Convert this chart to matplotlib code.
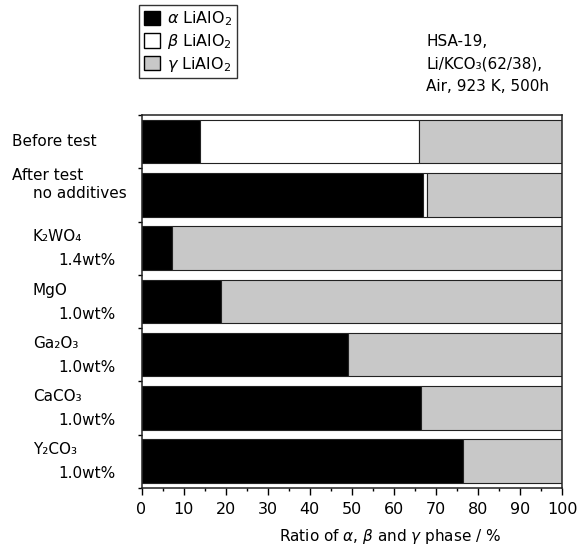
import numpy as np
import matplotlib.pyplot as plt
from matplotlib.patches import Patch
from matplotlib.transforms import blended_transform_factory

# phase ratios (%)
first_line = ["Before test", "After test", "K₂WO₄", "MgO", "Ga₂O₃", "CaCO₃", "Y₂CO₃"]
second_line = ["", "no additives", "1.4wt%", "1.0wt%", "1.0wt%", "1.0wt%", "1.0wt%"]
alpha = [14, 67, 7.3, 19, 49, 66.4, 76.5]
beta = [52, 1, 0, 0, 0, 0, 0]
gamma = [34, 32, 92.7, 81, 51, 33.6, 23.5]

plt.rcParams['font.family'] = ['DejaVu Sans']

fig = plt.figure(figsize=(5.8, 5.45), dpi=100)
ax = fig.add_axes([0.244, 0.105, 0.725, 0.684])

y = np.arange(len(alpha))
h = 0.82
alpha = np.array(alpha)
beta = np.array(beta)
gamma = np.array(gamma)
ax.barh(y, alpha, height=h, color='black', edgecolor='#222222', linewidth=0.8)
ax.barh(y, beta, left=alpha, height=h, color='white', edgecolor='#222222', linewidth=0.8)
ax.barh(y, gamma, left=alpha + beta, height=h, color='#c8c8c8', edgecolor='#222222', linewidth=0.8)

ax.set_xlim(0, 100)
ax.set_ylim(6.5, -0.5)
ax.set_xticks(np.arange(0, 101, 10))
ax.set_xticks(np.arange(5, 100, 10), minor=True)
ax.tick_params(axis='x', which='major', length=5, width=1, labelsize=11.5, pad=5)
ax.tick_params(axis='x', which='minor', length=2.5, width=1)
ax.set_yticks([])
ax.set_yticks(np.arange(-0.5, 7, 1), minor=True)
ax.tick_params(axis='y', which='minor', length=3, width=1)
ax.set_xlabel('Ratio of $\\alpha$, $\\beta$ and $\\gamma$ phase / %', fontsize=11)
ax.xaxis.set_label_coords(0.59, -0.105)
for s in ax.spines.values():
    s.set_linewidth(1.1)
    s.set_color('#222222')

# row labels
tr = blended_transform_factory(fig.transFigure, ax.transData)
for i in range(len(first_line)):
    if i == 0:
        ax.text(12 / 580, i, first_line[i], transform=tr, ha='left', va='center', fontsize=11)
    elif i == 1:
        ax.text(12 / 580, i - 0.36, first_line[i], transform=tr, ha='left', va='center', fontsize=11)
        ax.text(33 / 580, i - 0.03, second_line[i], transform=tr, ha='left', va='center', fontsize=11)
    else:
        ax.text(33 / 580, i - 0.21, first_line[i], transform=tr, ha='left', va='center', fontsize=11)
        ax.text(58 / 580, i + 0.24, second_line[i], transform=tr, ha='left', va='center', fontsize=11)

handles = [Patch(facecolor='black', edgecolor='black', label='$\\alpha$ LiAlO$_2$'),
           Patch(facecolor='white', edgecolor='black', label='$\\beta$ LiAlO$_2$'),
           Patch(facecolor='#c8c8c8', edgecolor='black', label='$\\gamma$ LiAlO$_2$')]
leg = fig.legend(handles=handles, loc='upper left', bbox_to_anchor=(139 / 580, 1 - 5 / 545),
                 frameon=True, fancybox=False, edgecolor='black', fontsize=11.5,
                 handlelength=1.0, handleheight=1.0, handletextpad=0.45,
                 labelspacing=0.22, borderpad=0.3, borderaxespad=0)
leg.get_frame().set_linewidth(1.0)

fig.text(426 / 580, 1 - 64 / 545, 'HSA-19,\nLi/KCO₃(62/38),\nAir, 923 K, 500h',
         ha='left', va='center', fontsize=11, linespacing=1.6)

fig.savefig('out.png', dpi=100)
